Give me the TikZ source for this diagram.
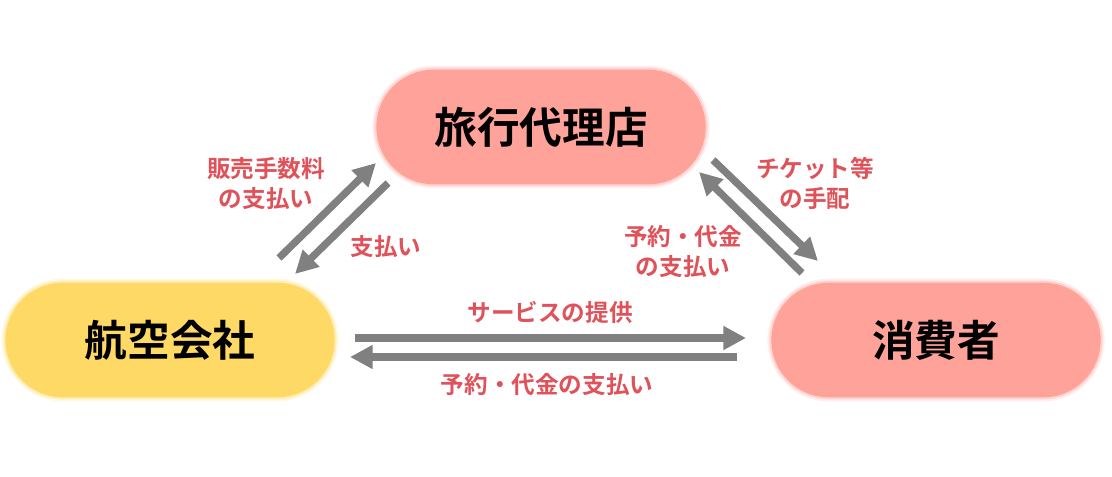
\documentclass[tikz,border=0pt]{standalone}
\usepackage{fontspec}
\setmainfont{Noto Sans CJK JP}[BoldFont={Noto Sans CJK JP Bold}]
\usetikzlibrary{arrows.meta}
\definecolor{salmon}{HTML}{FFA29A}
\definecolor{gold}{HTML}{FFD966}
\definecolor{lblred}{HTML}{E0525A}
\definecolor{arrgray}{HTML}{808080}
\tikzset{
  pill/.style={rounded corners=43pt, minimum width=247pt, minimum height=86pt,
    inner sep=0pt, font=\fontsize{32}{36}\selectfont\bfseries, text=black,
    fill=#1,
    preaction={draw=#1, draw opacity=0.18, line width=6pt},
    preaction={draw=#1, draw opacity=0.35, line width=3pt}},
  lbl/.style={text=lblred, font=\fontsize{17.7}{22.5}\selectfont\bfseries, align=center, inner sep=0pt},
  conn/.style={draw=arrgray, line width=5.5pt, -{Triangle[length=17pt,width=17pt]}}
}
\begin{document}
\begin{tikzpicture}[x=0.75pt,y=-0.75pt]
\useasboundingbox (0,0) rectangle (1112,477);
\node[pill=salmon] (agency) at (541,127) {旅行代理店};
\node[pill=gold] (airline) at (170,340) {航空会社};
\node[pill=salmon] (consumer) at (936,340) {消費者};
% horizontal
\coordinate (h1s) at (355,338); \coordinate (h1e) at (746,338);
\coordinate (h2s) at (737,357); \coordinate (h2e) at (350,357);
\draw[conn] (h1s) -- (h1e);
\draw[conn] (h2s) -- (h2e);
\node[lbl] (lserv) at (550,312) {サービスの提供};
\node[lbl] (lpay1) at (547,385) {予約・代金の支払い};
% left diagonals
\coordinate (l1s) at (279,258); \coordinate (l1e) at (376,163);
\coordinate (l2s) at (388,183); \coordinate (l2e) at (295,274);
\draw[conn] (l1s) -- (l1e);
\draw[conn] (l2s) -- (l2e);
\node[lbl] (lcomm) at (266,184) {販売手数料\\の支払い};
\node[lbl] (lpay2) at (386,247) {支払い};
% right diagonals
\coordinate (r1s) at (713,160); \coordinate (r1e) at (818,261);
\coordinate (r2s) at (802,273); \coordinate (r2e) at (699,172);
\draw[conn] (r1s) -- (r1e);
\draw[conn] (r2s) -- (r2e);
\node[lbl] (ltick) at (815,183) {チケット等\\の手配};
\node[lbl] (lpay3) at (683,252) {予約・代金\\の支払い};
\end{tikzpicture}
\end{document}
